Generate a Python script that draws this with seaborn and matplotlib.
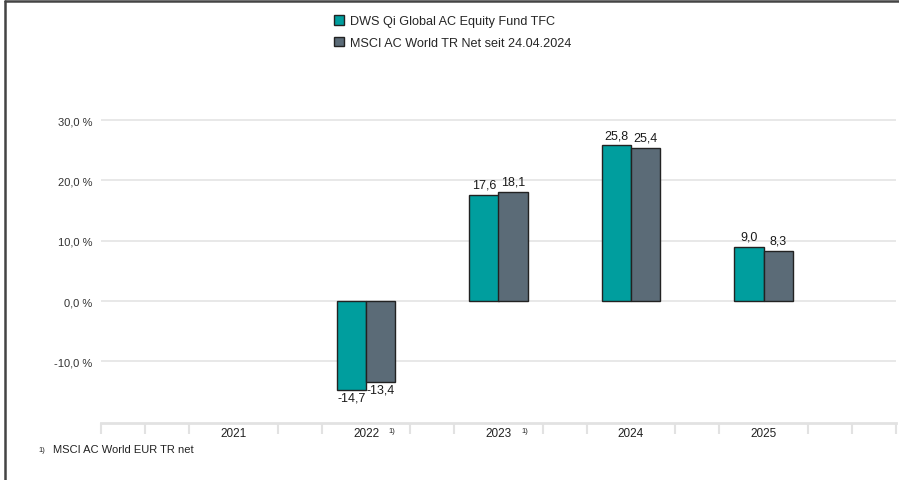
import matplotlib
matplotlib.use("Agg")
import matplotlib.pyplot as plt
import matplotlib.transforms as mtransforms
from matplotlib.lines import Line2D
from matplotlib.patches import Patch
import seaborn as sns
import pandas as pd
import numpy as np

years = ["2021", "2022", "2023", "2024", "2025"]
fund_name = "DWS Qi Global AC Equity Fund TFC"
index_name = "MSCI AC World TR Net seit 24.04.2024"
fund_values = [np.nan, -14.7, 17.6, 25.8, 9.0]
index_values = [np.nan, -13.4, 18.1, 25.4, 8.3]
footnote_years = ["2022", "2023"]
footnote_text = "MSCI AC World EUR TR net"
yticks = [-10, 0, 10, 20, 30]

fund_color = "#009e9e"
index_color = "#5b6b77"

df = pd.DataFrame({
    "year": years * 2,
    "series": [fund_name] * len(years) + [index_name] * len(years),
    "value": fund_values + index_values,
})

sns.set_theme(style="white")
plt.rcParams["font.family"] = ["Liberation Sans", "DejaVu Sans"]

fig = plt.figure(figsize=(8.99, 4.81), dpi=100)
ax = fig.add_axes([101 / 899, 1 - 423.8 / 481, 795 / 899, (423.8 - 85) / 481])

sns.barplot(data=df, x="year", y="value", hue="series", order=years,
            hue_order=[fund_name, index_name],
            palette=[fund_color, index_color], saturation=1, width=0.44, gap=0,
            edgecolor="#222222", linewidth=1.0, ax=ax, legend=False,
            errorbar=None, zorder=3)

ax.set_xlim(-1, 5)
ax.set_ylim(-20.2, 36)
ax.set_xlabel("")
ax.set_ylabel("")

# grid
for v in yticks:
    ax.axhline(v, color="#e4e4e4", lw=1.2, zorder=0)
ax.set_yticks(yticks)
ax.set_yticklabels([f"{v:.1f}".replace(".", ",") + " %" for v in yticks],
                   fontsize=8, color="#333333")
ax.tick_params(axis="y", length=0, pad=6)

for s in ["top", "right", "left"]:
    ax.spines[s].set_visible(False)
ax.spines["bottom"].set_color("#e2e2e2")
ax.spines["bottom"].set_linewidth(2)

ax.set_xticks(range(len(years)))
ax.set_xticklabels(years, fontsize=8.5, color="#222222")
ax.tick_params(axis="x", which="major", bottom=True, length=0, pad=3)
minor = [k / 3 for k in range(-3, 16) if k % 3 != 0 or k in (-3, 15)]
ax.set_xticks(minor, minor=True)
ax.tick_params(axis="x", which="minor", bottom=True, length=8, width=1.5,
               color="#e2e2e2", direction="out")

trans = mtransforms.blended_transform_factory(ax.transData, ax.transAxes)
for y in footnote_years:
    i = years.index(y)
    ax.text(i + 0.17, -0.013, "1)", transform=trans, fontsize=5.5,
            color="#222222", ha="left", va="top")

# value labels
for cont in ax.containers:
    for bar in cont:
        h = bar.get_height()
        if np.isnan(h):
            continue
        x = bar.get_x() + bar.get_width() / 2
        txt = f"{h:.1f}".replace(".", ",")
        if h >= 0:
            ax.annotate(txt, (x, h), xytext=(0, 3), textcoords="offset points",
                        ha="center", va="bottom", fontsize=9, color="#1a1a1a")
        else:
            ax.annotate(txt, (x, h), xytext=(0, -1.5), textcoords="offset points",
                        ha="center", va="top", fontsize=9, color="#1a1a1a")

handles = [Patch(facecolor=fund_color, edgecolor="#222222", lw=1.0),
           Patch(facecolor=index_color, edgecolor="#222222", lw=1.0)]
fig.legend(handles, [fund_name, index_name], loc="upper left",
           bbox_to_anchor=(334 / 899, 1 - 16 / 481), frameon=False,
           fontsize=9.1, handlelength=0.8, handleheight=0.8, handletextpad=0.5,
           labelspacing=0.75, borderaxespad=0, borderpad=0)

fig.text(38 / 899, 1 - 450 / 481, "1)", fontsize=5.5, color="#222222",
         ha="left", va="center")
fig.text(53 / 899, 1 - 450 / 481, footnote_text, fontsize=8, color="#222222",
         ha="left", va="center")

fig.add_artist(Line2D([4.5 / 899, 4.5 / 899], [0, 1 - 2 / 481], color="#444444",
                      lw=1.8, transform=fig.transFigure))
fig.add_artist(Line2D([4.5 / 899, 1], [1 - 2 / 481, 1 - 2 / 481], color="#444444",
                      lw=1.8, transform=fig.transFigure))

fig.savefig("out.png", dpi=100)
